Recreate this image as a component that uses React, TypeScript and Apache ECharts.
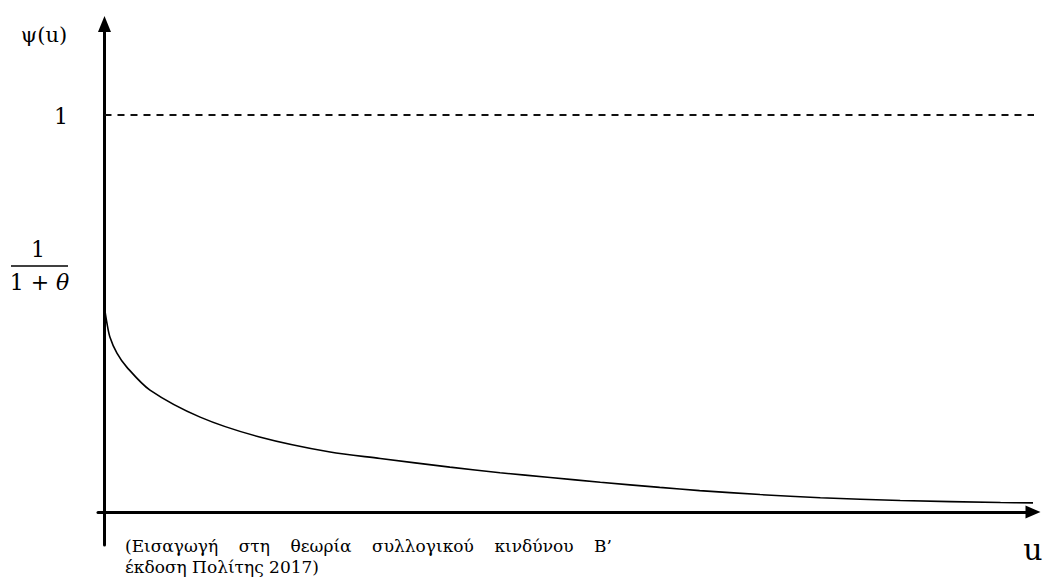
import React, { useEffect, useRef } from "react";
import * as echarts from "echarts";

// ---- data ----
const uValues = [0, 0.026, 0.058, 0.134, 0.24, 0.49, 1.03, 1.67, 2.43, 2.97, 3.72, 4.26, 4.8, 5.34, 5.98, 6.41, 7.06, 7.71, 8.57, 9.65, 10];
const psiValues = [0.514, 0.476, 0.441, 0.4, 0.365, 0.307, 0.239, 0.189, 0.151, 0.135, 0.113, 0.099, 0.087, 0.075, 0.062, 0.054, 0.044, 0.036, 0.029, 0.024, 0.023];
const limitU = [0, 10.3];
const limitPsi = [1, 1];
const yAxisName = "ψ(u)";
const xAxisName = "u";
const oneLabel = "1";
const fracNumerator = "1";
const fracDenominatorPlain = "1 + ";
const fracDenominatorItalic = "θ";
const captionLine1 = ["(Εισαγωγή", "στη", "θεωρία", "συλλογικού", "κινδύνου", "Β’"];
const captionLine2 = "έκδοση Πολίτης 2017)";

const SERIF = '"DejaVu Serif", "Liberation Serif", serif';

function measure(text: string, font: string): number {
  const c = document.createElement("canvas").getContext("2d");
  if (!c) return text.length * 8;
  c.font = font;
  return c.measureText(text).width;
}

export default function App() {
  const ref = useRef<HTMLDivElement>(null);
  useEffect(() => {
    if (!ref.current) return;
    const chart = echarts.init(ref.current, undefined, { renderer: "svg" });

    const capFont = `17px ${SERIF}`;
    const capLeft = 125;
    const capRight = 612;
    const widths = captionLine1.map((w) => measure(w, capFont));
    const total = widths.reduce((a, b) => a + b, 0);
    const gap = (capRight - capLeft - total) / (captionLine1.length - 1);
    let cx = capLeft;
    const capWords: any[] = captionLine1.map((w, i) => {
      const el = {
        type: "text",
        x: cx,
        y: 546,
        style: { text: w, font: capFont, fill: "#000", textAlign: "left", textVerticalAlign: "middle", align: "left", verticalAlign: "middle" },
      };
      cx += widths[i] + gap;
      return el;
    });

    const txt = (text: string, x: number, y: number, size: number, align = "center") => ({
      type: "text",
      x,
      y,
      style: { text, font: `${size}px ${SERIF}`, fill: "#000", textAlign: align, textVerticalAlign: "middle", align, verticalAlign: "middle" },
    });

    chart.setOption({
      animation: false,
      backgroundColor: "#fff",
      grid: { left: 98, right: 27, top: 24, bottom: 33 },
      xAxis: {
        type: "value",
        min: -0.07,
        max: 10,
        splitLine: { show: false },
        axisTick: { show: false },
        axisLabel: { show: false },
        axisLine: {
          show: true,
          onZero: true,
          symbol: ["none", "triangle"],
          symbolSize: [13, 15],
          lineStyle: { color: "#000", width: 3 },
        },
      },
      yAxis: {
        type: "value",
        min: -0.083,
        max: 1.229,
        splitLine: { show: false },
        axisTick: { show: false },
        axisLabel: { show: false },
        axisLine: {
          show: true,
          onZero: true,
          symbol: ["none", "triangle"],
          symbolSize: [13, 16],
          lineStyle: { color: "#000", width: 3 },
        },
      },
      series: [
        {
          type: "line",
          data: uValues.map((u, i) => [u, psiValues[i]]),
          smooth: 0.3,
          showSymbol: false,
          lineStyle: { color: "#000", width: 1.6 },
          z: 3,
        },
        {
          type: "line",
          data: limitU.map((u, i) => [u, limitPsi[i]]),
          clip: false,
          showSymbol: false,
          lineStyle: { color: "#111", width: 2, type: [7, 6] },
          z: 2,
        },
      ],
      graphic: [
        txt(yAxisName, 44, 35, 21),
        txt(oneLabel, 68, 116, 22, "right"),
        txt(fracNumerator, 38, 249, 22),
        { type: "line", shape: { x1: 11, y1: 266, x2: 68, y2: 266 }, style: { stroke: "#000", lineWidth: 1.5 } },
        {
          type: "text",
          x: 39.5,
          y: 282,
          style: {
            text: `{a|${fracDenominatorPlain}}{b|${fracDenominatorItalic}}`,
            font: `22px ${SERIF}`,
            fill: "#000",
            textAlign: "center",
            textVerticalAlign: "middle",
            align: "center",
            verticalAlign: "middle",
            rich: {
              a: { fontSize: 22, fontFamily: SERIF, fill: "#000", color: "#000" },
              b: { fontSize: 22, fontFamily: SERIF, fontStyle: "italic", fill: "#000", color: "#000" },
            },
          },
        },
        txt(xAxisName, 1033, 549, 30),
        ...capWords,
        {
          type: "text",
          x: capLeft,
          y: 567,
          style: { text: captionLine2, font: capFont, fill: "#000", textAlign: "left", textVerticalAlign: "middle", align: "left", verticalAlign: "middle" },
        },
      ],
    });
    return () => chart.dispose();
  }, []);
  return <div ref={ref} style={{ position: "absolute", left: 0, top: 0, width: 1060, height: 578 }} />;
}
